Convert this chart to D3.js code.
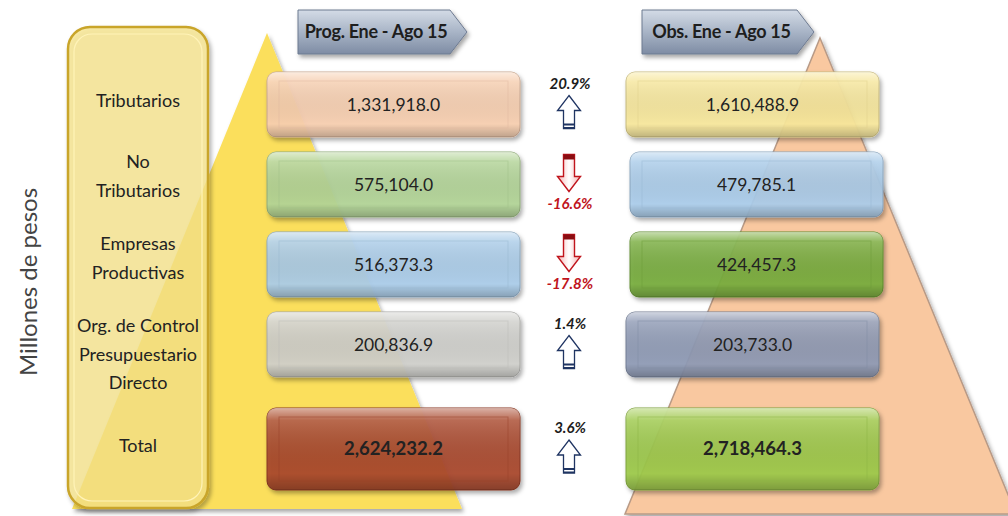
<!DOCTYPE html>
<html lang="es">
<head>
<meta charset="UTF-8">
<title>Ingresos Ene - Ago 15</title>
<script src="https://cdnjs.cloudflare.com/ajax/libs/d3/7.8.5/d3.min.js"></script>
<style>
    body { margin: 0; background: #fff; }
    svg { display: block; font-family: Lato, "Open Sans", sans-serif; }
</style>
</head>
<body>
<svg id="chart" width="1008" height="516"></svg>
<script>
    // data
    const categories = ["Tributarios", "No Tributarios", "Empresas Productivas", "Org. de Control Presupuestario Directo", "Total"];
    const categoryLines = [["Tributarios"], ["No", "Tributarios"], ["Empresas", "Productivas"], ["Org. de Control", "Presupuestario", "Directo"], ["Total"]];
    const progValues = [1331918.0, 575104.0, 516373.3, 200836.9, 2624232.2];
    const obsValues = [1610488.9, 479785.1, 424457.3, 203733.0, 2718464.3];
    const pctChange = [20.9, -16.6, -17.8, 1.4, 3.6];
    const headers = ["Prog. Ene - Ago 15", "Obs. Ene - Ago 15"];
    const axisTitle = "Millones de pesos";

    const progColors = ["#f9cfb1", "#b3d597", "#abcdea", "#d0d0cc", "#a9462c"];
    const obsColors = ["#f8e89c", "#abcdec", "#77ae3d", "#8f9bb6", "#9dca4b"];

    const svg = d3.select("#chart");
    const defs = svg.append("defs");

    const shadow = defs.append("filter").attr("id", "shadow").attr("x", "-10%").attr("y", "-20%").attr("width", "130%").attr("height", "150%");
    shadow.append("feDropShadow").attr("dx", 2).attr("dy", 3).attr("stdDeviation", 2).attr("flood-color", "#000").attr("flood-opacity", 0.35);

    const gloss = defs.append("linearGradient").attr("id", "gloss").attr("x1", 0).attr("y1", 0).attr("x2", 0).attr("y2", 1);
    gloss.append("stop").attr("offset", "0").attr("stop-color", "#fff").attr("stop-opacity", 0.55);
    gloss.append("stop").attr("offset", "0.15").attr("stop-color", "#fff").attr("stop-opacity", 0.15);
    gloss.append("stop").attr("offset", "0.8").attr("stop-color", "#000").attr("stop-opacity", 0);
    gloss.append("stop").attr("offset", "1").attr("stop-color", "#000").attr("stop-opacity", 0.22);

    const headGrad = defs.append("linearGradient").attr("id", "headGrad").attr("x1", 0).attr("y1", 0).attr("x2", 0).attr("y2", 1);
    headGrad.append("stop").attr("offset", "0").attr("stop-color", "#d3dbe6");
    headGrad.append("stop").attr("offset", "0.5").attr("stop-color", "#a8b4c6");
    headGrad.append("stop").attr("offset", "1").attr("stop-color", "#7e8ca4");

    const redGrad = defs.append("linearGradient").attr("id", "redGrad").attr("x1", 0).attr("y1", 0).attr("x2", 1).attr("y2", 0);
    redGrad.append("stop").attr("offset", "0").attr("stop-color", "#f4b4b4");
    redGrad.append("stop").attr("offset", "0.5").attr("stop-color", "#fff");
    redGrad.append("stop").attr("offset", "1").attr("stop-color", "#f4b4b4");

    // rows
    const y = d3.scaleBand().domain(categories).range([72, 457]).paddingInner(0.1875);
    const isTotal = d => d === "Total";
    const rowTop = d => y(d) + (isTotal(d) ? 16 : 0);
    const rowH = d => y.bandwidth() + (isTotal(d) ? 17 : 0);
    const rowMid = d => rowTop(d) + rowH(d) / 2;

    // columns (centres)
    const x = d3.scalePoint().domain(["prog", "pct", "obs"]).range([393.5, 752.5]);
    const barW = 253;
    const obsShift = [0, 4, 4, 0, 0];
    const fmt = d3.format(",.1f");

    // background pyramids
    svg.append("path")
        .attr("d", "M267,33 L462,509 L72,509 Z")
        .attr("fill", "#fbdf5c").attr("filter", "url(#shadow)");
    svg.append("path")
        .attr("d", "M820,38 L1016,514 L625,514 Z")
        .attr("fill", "#f9c8a0").attr("stroke", "#b89a86").attr("stroke-width", 1.5).attr("filter", "url(#shadow)");

    // category panel
    svg.append("rect")
        .attr("x", 68).attr("y", 27).attr("width", 140).attr("height", 481).attr("rx", 22)
        .attr("fill", "#fbe78c").attr("fill-opacity", 0.72)
        .attr("stroke", "#c9a52c").attr("stroke-width", 2.5).attr("filter", "url(#shadow)");
    svg.append("rect")
        .attr("x", 74).attr("y", 34).attr("width", 128).attr("height", 467).attr("rx", 18)
        .attr("fill", "none").attr("stroke", "#fff3b8").attr("stroke-width", 1.2);

    const labelX = 138;
    const labelShift = [-4, -8, -6, 10, -3];
    svg.append("g").selectAll("text").data(categories).join("text")
        .attr("x", labelX)
        .attr("text-anchor", "middle")
        .attr("font-size", 18)
        .attr("fill", "#222")
        .each(function (d, i) {
            const lines = categoryLines[i];
            const lh = 28.5;
            const start = rowMid(d) + labelShift[i] - (lines.length - 1) * lh / 2 + 6;
            d3.select(this).selectAll("tspan").data(lines).join("tspan")
                .attr("x", labelX)
                .attr("y", (l, j) => start + j * lh)
                .text(l => l);
        });

    svg.append("text")
        .attr("transform", "translate(37,282) rotate(-90)")
        .attr("text-anchor", "middle")
        .attr("font-size", 24)
        .attr("fill", "#444")
        .text(axisTitle);

    // header arrows
    const headerX = [298, 642];
    const headerW = [152, 155];
    headers.forEach((h, i) => {
        const x0 = headerX[i], w = headerW[i], top = 10, bot = 54, tip = 17;
        svg.append("path")
            .attr("d", `M${x0},${top} L${x0 + w},${top} L${x0 + w + tip},${(top + bot) / 2} L${x0 + w},${bot} L${x0},${bot} Z`)
            .attr("fill", "url(#headGrad)").attr("stroke", "#6d7a90").attr("stroke-width", 1)
            .attr("filter", "url(#shadow)");
        svg.append("text")
            .attr("x", x0 + (w + 4) / 2).attr("y", 38)
            .attr("text-anchor", "middle").attr("font-size", 18).attr("font-weight", "bold")
            .attr("letter-spacing", -0.3)
            .attr("fill", "#1e1e1e").text(h);
    });

    // bars
    function bars(cls, values, colors, cx, shift) {
        const g = svg.append("g").attr("class", cls);
        const row = g.selectAll("g").data(categories).join("g")
            .attr("transform", (d, i) => `translate(${shift ? shift[i] : 0},0)`);
        const xPos = cx - barW / 2, w = barW;
        row.append("rect")
            .attr("x", xPos).attr("y", d => rowTop(d)).attr("width", w).attr("height", d => rowH(d)).attr("rx", 9)
            .attr("fill", (d, i) => colors[i]).attr("fill-opacity", 0.92)
            .attr("stroke", (d, i) => d3.color(colors[i]).darker(0.6)).attr("stroke-width", 1)
            .attr("filter", "url(#shadow)");
        row.append("rect")
            .attr("x", xPos).attr("y", d => rowTop(d)).attr("width", w).attr("height", d => rowH(d)).attr("rx", 9)
            .attr("fill", "url(#gloss)");
        row.append("rect")
            .attr("x", xPos + 12).attr("y", d => rowTop(d) + 9).attr("width", w - 24).attr("height", d => rowH(d) - 18)
            .attr("fill", "none").attr("stroke", (d, i) => d3.color(colors[i]).darker(0.3)).attr("stroke-opacity", 0.5);
        row.append("text")
            .attr("x", cx).attr("y", d => rowMid(d) + 6)
            .attr("text-anchor", "middle")
            .attr("font-size", d => isTotal(d) ? 18.5 : 17.5)
            .attr("font-weight", d => isTotal(d) ? "bold" : "normal")
            .attr("fill", "#222")
            .text((d, i) => fmt(values[i]));
    }
    bars("prog", progValues, progColors, x("prog"));
    bars("obs", obsValues, obsColors, x("obs"), obsShift);

    // change arrows
    const ax = x("pct") - 4;
    function arrowPath(cx, yTip, yEnd) {
        const dir = yEnd > yTip ? 1 : -1;
        const hw = 11.5, sw = 5.5, hl = 15 * dir;
        return `M${cx},${yTip} L${cx + hw},${yTip + hl} L${cx + sw},${yTip + hl} L${cx + sw},${yEnd} L${cx - sw},${yEnd} L${cx - sw},${yTip + hl} L${cx - hw},${yTip + hl} Z`;
    }
    const chg = svg.append("g").selectAll("g").data(categories).join("g");
    chg.each(function (d, i) {
        const g = d3.select(this);
        const m = rowMid(d), up = pctChange[i] >= 0;
        const col = up ? "#1f3462" : "#c0141c";
        if (up) {
            g.append("path").attr("d", arrowPath(ax, m - 9, m + 24))
                .attr("fill", "#fff").attr("stroke", col).attr("stroke-width", 1.3);
            g.append("rect").attr("x", ax - 5.5).attr("y", m + 19).attr("width", 11).attr("height", 2).attr("fill", col);
            g.append("rect").attr("x", ax - 5.5).attr("y", m + 22.5).attr("width", 11).attr("height", 1.5).attr("fill", col);
        } else {
            g.append("path").attr("d", arrowPath(ax, m + 7, m - 30))
                .attr("fill", "url(#redGrad)").attr("stroke", col).attr("stroke-width", 1.4);
            g.append("rect").attr("x", ax - 5.5).attr("y", m - 30).attr("width", 11).attr("height", 5).attr("fill", "#8a0d12");
        }
        g.append("text")
            .attr("x", ax + 1).attr("y", up ? m - 16 : m + 24)
            .attr("text-anchor", "middle").attr("font-size", 15)
            .attr("font-weight", "bold").attr("font-style", "italic")
            .attr("fill", up ? "#1c1c1c" : "#c0141c")
            .text(pctChange[i].toFixed(1) + "%");
    });
</script>
</body>
</html>
